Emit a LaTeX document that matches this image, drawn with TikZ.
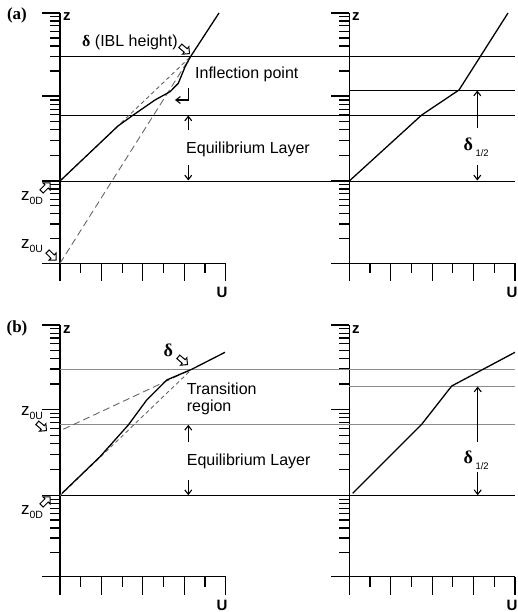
\documentclass[tikz,border=0pt]{standalone}
\usepackage{fontspec}
\setmainfont{Liberation Sans}
\newfontfamily\greekserif{Liberation Serif}
\usetikzlibrary{arrows.meta,shapes.arrows}
\newcommand{\dsym}{{\greekserif\bfseries δ}}
\newcommand{\zsub}[1]{z\raisebox{-4pt}{\fontsize{10.5}{10}\selectfont #1}}
\newcommand{\dhalf}{{\fontsize{18}{18}\selectfont\dsym}\kern2.5pt\raisebox{-6pt}{\fontsize{9.5}{10}\selectfont 1/2}}

\begin{document}
\begin{tikzpicture}[
  x=1pt,y=-1pt,
  axisline/.style={line width=1.4pt},
  ticky/.style={line width=1.2pt},
  hline/.style={line width=0.9pt},
  faint/.style={line width=0.9pt,color=black!45},
  profile/.style={line width=1.3pt,line join=round},
  longdash/.style={line width=0.9pt,color=black!60,dash pattern=on 7pt off 4pt},
  shortdash/.style={line width=0.9pt,color=black!60,dash pattern=on 4pt off 3pt},
  arrow/.style={-{Straight Barb[length=4.5pt,width=7pt]},line width=1.1pt},
  hollow/.style={single arrow,draw,fill=white,line width=1pt,minimum height=12pt,inner sep=1.8pt,single arrow head extend=2.6pt,single arrow head indent=0pt},
  txt/.style={font=\fontsize{16}{17.3}\selectfont,inner sep=0pt},
  zlab/.style={font=\fontsize{17}{17}\selectfont,inner sep=0pt},
  axlab/.style={font=\fontsize{15}{15}\selectfont\bfseries,inner sep=0pt},
  tag/.style={font=\fontsize{17}{17}\selectfont\greekserif\bfseries,inner sep=0pt}
]
\useasboundingbox (0,0) rectangle (518,612);

\foreach \x/\yb/\ya/\yc/\yd in {60/263.3/181/96/13,349.3/263.3/181/96/13,60/576.7/495.7/409.3/325,349.3/576.7/495.7/409.3/325}{
  \draw[axisline] (\x-18,\yb) -- (\x+165.6,\yb);
  \draw[axisline] (\x,\yb+18) -- (\x,\yd);
  \foreach \k in {1,3,5,7} \draw[ticky] ({\x+20.7*\k},\yb) -- ({\x+20.7*\k},\yb+10);
  \foreach \k in {2,4,6,8} \draw[ticky] ({\x+20.7*\k},\yb) -- ({\x+20.7*\k},\yb+18);
  \foreach \lo/\hi in {\yb/\ya,\ya/\yc,\yc/\yd}{
    \foreach \f in {0.301,0.477,0.602,0.699,0.778,0.845,0.903,0.954}
      \draw[ticky] (\x-10,{\lo+(\hi-\lo)*\f}) -- (\x,{\lo+(\hi-\lo)*\f});
    \draw[ticky] (\x-18,\hi) -- (\x,\hi);
  }
}

\node[tag] (taga) at (17,15) {(a)};
\node[tag] (tagb) at (17,328) {(b)};
\node[axlab,anchor=west] (za) at (63,17) {z};
\node[axlab,anchor=west] (zc) at (352,17) {z};
\node[axlab,anchor=west] (zb) at (63,330) {z};
\node[axlab,anchor=west] (zd) at (352,330) {z};
\node[axlab] (ua) at (222,292) {U};
\node[axlab] (uc) at (512,292) {U};
\node[axlab] (ub) at (222,605) {U};
\node[axlab] (ud) at (512,605) {U};

\coordinate (a0D) at (60,181);
\coordinate (a0U) at (60,263.3);
\coordinate (aD) at (190.5,56.7);
\draw[hline] (60,56.7) -- (515,56.7);
\draw[hline] (60,115) -- (515,115);
\draw[hline] (60,181) -- (515,181);
\draw[hline] (349.3,90) -- (515,90);
\draw[shortdash] (a0D) -- (aD);
\draw[longdash] (a0U) -- (aD);
\draw[profile] (a0D) -- (118,126) -- (133.3,115) -- (155,100) -- (170,91.7) -- (178.3,83.3) -- (185,67) -- (aD) -- (219,13);
\draw[profile] (349.3,181) -- (421.7,115) -- (459,90) -- (508,13);

\node[txt,anchor=west] (ibl) at (82,42) {\dsym\ (IBL height)};
\node[hollow,rotate=-40] (iblarr) at (184,49) {};
\node[txt,anchor=west] (infl) at (195,74) {Inflection point};
\coordinate (inflA) at (188.3,88.3);
\coordinate (inflB) at (175,100);
\draw[arrow] (inflA) |- (inflB);
\node[txt,anchor=west] (eqa) at (186,149) {Equilibrium Layer};
\coordinate (eqaA) at (188.3,130);
\coordinate (eqaB) at (188.3,115.5);
\coordinate (eqaC) at (188.3,165);
\coordinate (eqaD) at (188.3,180.5);
\draw[arrow] (eqaA) -- (eqaB);
\draw[arrow] (eqaC) -- (eqaD);
\node[zlab] (z0Da) at (32,198) {\zsub{0D}};
\node[hollow,rotate=45] (z0Daarr) at (45,188) {};
\node[zlab] (z0Ua) at (32,246) {\zsub{0U}};
\node[hollow,rotate=-45] (z0Uaarr) at (51,255) {};

\node[anchor=west,inner sep=0pt] (dha) at (463.5,147) {\dhalf};
\coordinate (dhaA) at (477.3,128.3);
\coordinate (dhaB) at (477.3,90.5);
\coordinate (dhaC) at (477.3,165);
\coordinate (dhaD) at (477.3,180.5);
\draw[arrow] (dhaA) -- (dhaB);
\draw[arrow] (dhaC) -- (dhaD);

\coordinate (b0D) at (60,495.7);
\coordinate (b0U) at (63.3,429.3);
\coordinate (bD) at (191.7,369.3);
\draw[faint] (60,369.3) -- (515,369.3);
\draw[faint] (60,424.3) -- (515,424.3);
\draw[hline] (60,495.7) -- (515,495.7);
\draw[faint] (349.3,386) -- (515,386);
\draw[shortdash] (b0D) -- (bD);
\draw[longdash] (b0U) -- (bD);
\draw[profile] (62,493.3) -- (100,456.7) -- (128.3,425) -- (146.7,400) -- (166.7,380) -- (bD) -- (225,352.3);
\draw[profile] (352.7,493.3) -- (421.7,424.3) -- (451.7,386) -- (515,352.3);

\node[anchor=center,inner sep=0pt,font=\fontsize{18}{18}\selectfont] (dlb) at (168.3,350) {\dsym};
\node[hollow,rotate=-40] (dlbarr) at (182,360) {};
\node[txt,anchor=west,align=left] (trn) at (186.7,398.7) {Transition\\region};
\node[txt,anchor=west] (eqb) at (186.7,461.7) {Equilibrium Layer};
\coordinate (eqbA) at (188.3,441.7);
\coordinate (eqbB) at (188.3,424.8);
\coordinate (eqbC) at (188.3,480);
\coordinate (eqbD) at (188.3,495.2);
\draw[arrow] (eqbA) -- (eqbB);
\draw[arrow] (eqbC) -- (eqbD);
\node[zlab] (z0Ub) at (32,412.7) {\zsub{0U}};
\node[hollow,rotate=-40] (z0Ubarr) at (41,426) {};
\node[zlab] (z0Db) at (32,511.7) {\zsub{0D}};
\node[hollow,rotate=45] (z0Dbarr) at (45,502) {};

\node[anchor=west,inner sep=0pt] (dhb) at (463.5,460) {\dhalf};
\coordinate (dhbA) at (477.7,441.7);
\coordinate (dhbB) at (477.7,386.5);
\coordinate (dhbC) at (477.7,471.7);
\coordinate (dhbD) at (477.7,495.2);
\draw[arrow] (dhbA) -- (dhbB);
\draw[arrow] (dhbC) -- (dhbD);
\end{tikzpicture}
\end{document}
